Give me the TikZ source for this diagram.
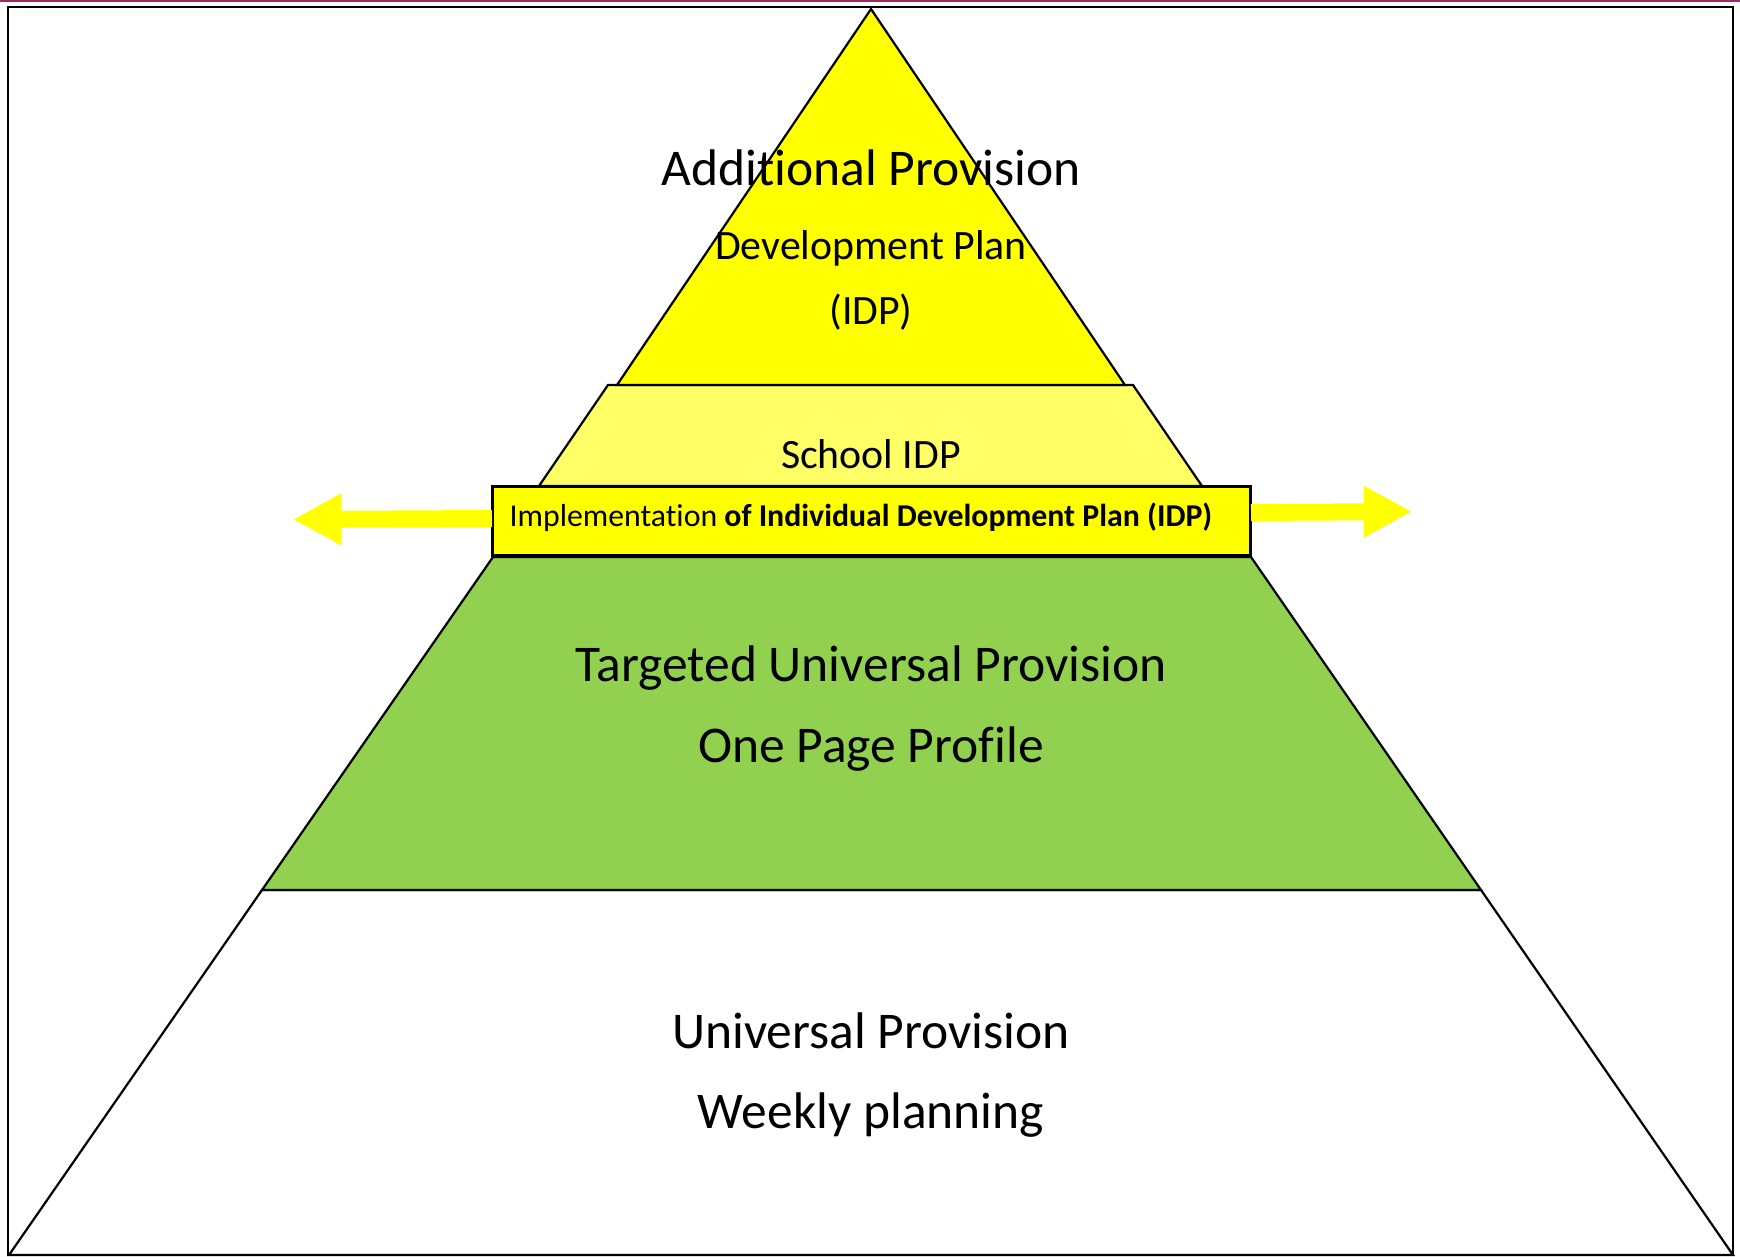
\documentclass[tikz,border=0pt]{standalone}
\usepackage{fontspec}
\setmainfont{Carlito}[Ligatures=NoCommon]
\usetikzlibrary{arrows.meta}
\definecolor{pyryellow}{RGB}{255,255,0}
\definecolor{pyrlight}{RGB}{255,255,102}
\definecolor{pyrgreen}{RGB}{146,208,80}
\definecolor{framemaroon}{RGB}{160,40,100}
\tikzset{
  tier/.style={draw=black, line width=2.2pt, line join=miter},
  bigtext/.style={anchor=base, font=\fontsize{51.5}{60}\selectfont, inner sep=0pt},
  midtext/.style={anchor=base, font=\fontsize{41.8}{49}\selectfont, inner sep=0pt},
  boxtext/.style={anchor=base, font=\fontsize{31.8}{38}\selectfont, inner sep=0pt},
  idpbox/.style={draw=black, line width=3pt, fill=pyryellow, minimum width=758pt, minimum height=69pt, inner sep=0pt},
  sidearrow/.style={draw=pyryellow, line width=17pt, -{Triangle[length=48pt,width=48pt]}}
}
\begin{document}
\begin{tikzpicture}[x=1pt,y=-1pt]
\useasboundingbox (0,0) rectangle (1740,1256);
\fill[white] (0,0) rectangle (1740,1256);
% frame
\draw[framemaroon, line width=1.5pt] (0,0.75) -- (1740,0.75);
\draw[black, line width=2.8pt] (8,7) rectangle (1733,1255);
% bottom tier
\draw[tier, fill=white] (262,890) -- (1481,890) -- (1733,1255) -- (9,1255) -- cycle;
% green tier
\draw[tier, fill=pyrgreen] (493,557) -- (1251,557) -- (1481,890) -- (262,890) -- cycle;
% school tier
\draw[tier, fill=pyrlight] (608,385) -- (1133,385) -- (1202,486) -- (539,486) -- cycle;
% top triangle
\draw[tier, fill=pyryellow] (871,9) -- (1125,385) -- (617,385) -- cycle;
% box
\node[idpbox] (box) at (871,520.5) {};
% arrows
\coordinate (lstart) at (492,518.5);
\coordinate (ltip) at (293,519.5);
\coordinate (rstart) at (1251,512.5);
\coordinate (rtip) at (1412,511.5);
\draw[sidearrow] (lstart) -- (ltip);
\draw[sidearrow] (rstart) -- (rtip);
% texts
\node[bigtext] (t1) at (871,185) {Additional Provision};
\node[midtext] (t2) at (871,259) {Development Plan};
\node[midtext] (t3) at (871,324) {(IDP)};
\node[midtext] (t4) at (871,468) {School IDP};
\node[boxtext] (t5) at (861,526) {Implementation \textbf{of Individual Development Plan (IDP)}};
\node[bigtext] (t6) at (871,681) {Targeted Universal Provision};
\node[bigtext] (t7) at (871,762) {One Page Profile};
\node[bigtext] (t8) at (871,1048) {Universal Provision};
\node[bigtext] (t9) at (871,1128) {Weekly planning};
\end{tikzpicture}
\end{document}
